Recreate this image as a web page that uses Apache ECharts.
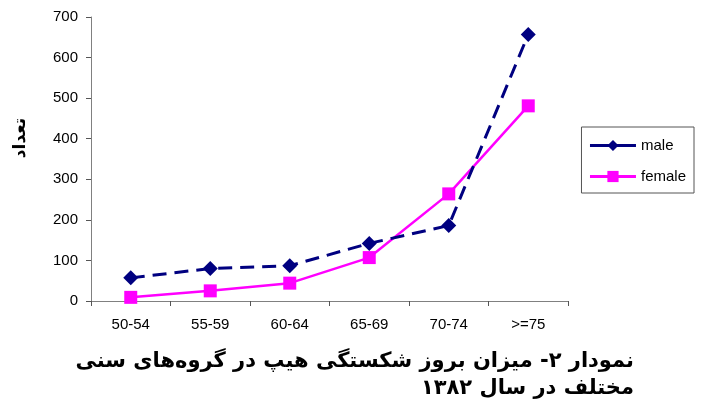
<!DOCTYPE html>
<html>
<head>
<meta charset="utf-8">
<script src="https://cdn.jsdelivr.net/npm/echarts@6/dist/echarts.min.js"></script>
<style>
html,body{margin:0;padding:0;background:#fff;}
#c{width:703px;height:407px;}
</style>
</head>
<body>
<div id="c"></div>
<script>
var categories = ['50-54', '55-59', '60-64', '65-69', '70-74', '>=75'];
var maleValues = [57, 80, 87, 142, 186, 657];
var femaleValues = [9, 25, 44, 107, 264, 481];
var yTicks = [0, 100, 200, 300, 400, 500, 600, 700];
var yAxisTitle = 'تعداد';
var titleLine1 = 'نمودار ۲- میزان بروز شکستگی هیپ در گروه‌های سنی';
var titleLine2 = 'مختلف در سال ۱۳۸۲';

var chart = echarts.init(document.getElementById('c'), null, {renderer: 'canvas'});
var axisFont = {fontFamily: 'Liberation Sans, Arial, sans-serif', fontSize: 15, color: '#000'};
chart.setOption({
  animation: false,
  backgroundColor: '#fff',
  grid: {left: 91, right: 135, top: 17, bottom: 106, containLabel: false},
  xAxis: {
    type: 'category',
    data: categories,
    boundaryGap: true,
    axisLine: {lineStyle: {color: '#808080', width: 1}},
    axisTick: {show: true, length: 5, lineStyle: {color: '#555'}},
    axisLabel: Object.assign({margin: 16}, axisFont),
    splitLine: {show: false}
  },
  yAxis: {
    type: 'value',
    min: yTicks[0],
    max: yTicks[yTicks.length - 1],
    interval: 100,
    axisLine: {show: true, lineStyle: {color: '#808080', width: 1}},
    axisTick: {show: true, length: 5, lineStyle: {color: '#555'}},
    axisLabel: Object.assign({margin: 13}, axisFont),
    splitLine: {show: false}
  },
  legend: {
    orient: 'vertical',
    right: 9,
    top: 127,
    borderColor: '#555',
    borderWidth: 1,
    padding: [11, 8, 9, 7],
    itemGap: 16,
    itemWidth: 46,
    itemHeight: 14,
    backgroundColor: '#fff',
    textStyle: {fontFamily: 'Liberation Sans, Arial, sans-serif', fontSize: 15, color: '#000'},
    data: [
      {name: 'male', itemStyle: {color: '#000080'}, lineStyle: {type: 'solid', width: 3, color: '#000080'}},
      {name: 'female', itemStyle: {color: '#FF00FF'}, lineStyle: {type: 'solid', width: 3, color: '#FF00FF'}}
    ]
  },
  graphic: [
    {
      type: 'text',
      rotation: Math.PI / 2,
      x: 21, y: 138,
      style: {
        text: yAxisTitle,
        font: 'bold 17px "DejaVu Sans", sans-serif',
        fill: '#000',
        align: 'center',
        verticalAlign: 'middle'
      }
    },
    {
      type: 'text',
      x: 634, y: 362,
      style: {
        text: '\u202B' + titleLine1 + '\u202C',
        font: 'bold 21px "DejaVu Sans", sans-serif',
        fill: '#000',
        align: 'right',
        verticalAlign: 'middle'
      }
    },
    {
      type: 'text',
      x: 634, y: 389,
      style: {
        text: '\u202B' + titleLine2 + '\u202C',
        font: 'bold 21px "DejaVu Sans", sans-serif',
        fill: '#000',
        align: 'right',
        verticalAlign: 'middle'
      }
    }
  ],
  series: [
    {
      name: 'male',
      type: 'line',
      data: maleValues,
      symbol: 'diamond',
      symbolSize: 15,
      itemStyle: {color: '#000080'},
      lineStyle: {color: '#000080', width: 3, type: [14, 8]},
      z: 3
    },
    {
      name: 'female',
      type: 'line',
      data: femaleValues,
      symbol: 'rect',
      symbolSize: 13,
      itemStyle: {color: '#FF00FF'},
      lineStyle: {color: '#FF00FF', width: 2.5, type: 'solid'},
      z: 2
    }
  ]
});
</script>
</body>
</html>
